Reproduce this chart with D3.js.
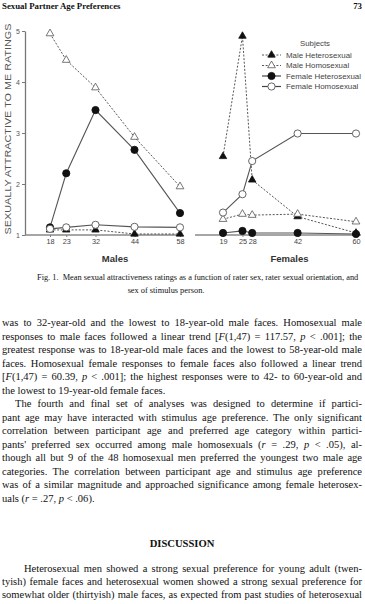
<!DOCTYPE html>
<html><head><meta charset="utf-8">
<script src="https://cdn.jsdelivr.net/npm/d3@7"></script>
<style>body{margin:0;background:#fff}svg{display:block}</style>
</head><body>
<script>
// ---- data ----
const maleAges = [18, 23, 32, 44, 58];
const femaleAges = [19, 25, 28, 42, 60];
const yTicks = [1, 2, 3, 4, 5];
const seriesNames = ["Male Heterosexual", "Male Homosexual", "Female Heterosexual", "Female Homosexual"];
// ratings of male stimulus faces
const maleFacesMaleHetero   = [1.10, 1.10, 1.10, 1.02, 1.02];
const maleFacesMaleHomo     = [4.95, 4.43, 3.89, 2.92, 1.95];
const maleFacesFemaleHetero = [1.15, 2.21, 3.45, 2.67, 1.43];
const maleFacesFemaleHomo   = [1.12, 1.15, 1.20, 1.16, 1.15];
// ratings of female stimulus faces
const femaleFacesMaleHetero   = [2.54, 4.90, 2.08, 1.36, 1.04];
const femaleFacesMaleHomo     = [1.31, 1.41, 1.39, 1.41, 1.26];
const femaleFacesFemaleHetero = [1.04, 1.08, 1.04, 1.04, 1.02];
const femaleFacesFemaleHomo   = [1.44, 1.80, 2.45, 2.99, 2.99];

const header = "Sexual Partner Age Preferences";
const pageNo = "73";
const yTitle = "SEXUALLY ATTRACTIVE TO ME RATINGS";
const caption1 = "Fig. 1.  Mean sexual attractiveness ratings as a function of rater sex, rater sexual orientation, and";
const caption2 = "sex of stimulus person.";
const body = [
 ["was to 32-year-old and the lowest to 18-year-old male faces. Homosexual male", 0, true],
 ["responses to male faces followed a linear trend [*F*(1,47) = 117.57, *p* < .001]; the", 0, true],
 ["greatest response was to 18-year-old male faces and the lowest to 58-year-old male", 0, true],
 ["faces. Homosexual female responses to female faces also followed a linear trend", 0, true],
 ["[*F*(1,47) = 60.39, *p* < .001]; the highest responses were to 42- to 60-year-old and", 0, true],
 ["the lowest to 19-year-old female faces.", 0, false],
 ["The fourth and final set of analyses was designed to determine if partici-", 1, true],
 ["pant age may have interacted with stimulus age preference. The only significant", 0, true],
 ["correlation between participant age and preferred age category within partici-", 0, true],
 ["pants' preferred sex occurred among male homosexuals (*r* = .29, *p* < .05), al-", 0, true],
 ["though all but 9 of the 48 homosexual men preferred the youngest two male age", 0, true],
 ["categories. The correlation between participant age and stimulus age preference", 0, true],
 ["was of a similar magnitude and approached significance among female heterosex-", 0, true],
 ["uals (*r* = .27, *p* < .06).", 0, false]
];
const heading = "DISCUSSION";
const body2 = [
 ["Heterosexual men showed a strong sexual preference for young adult (twen-", 1, true],
 ["tyish) female faces and heterosexual women showed a strong sexual preference for", 0, true],
 ["somewhat older (thirtyish) male faces, as expected from past studies of heterosexual", 0, true]
];

// ---- drawing ----
const W = 365, H = 604;
const svg = d3.select("body").append("svg").attr("width", W).attr("height", H);
svg.append("rect").attr("width", W).attr("height", H).attr("fill", "#fff");

const serif = "'Liberation Serif','Times New Roman',serif";
const sans = "'Liberation Sans',Arial,sans-serif";
const ink = "#111";

// header
svg.append("text").attr("x", 2).attr("y", 9).attr("font-family", serif).attr("font-weight", "bold")
  .attr("font-size", 8.8).attr("fill", ink).text(header);
svg.append("text").attr("x", 362).attr("y", 9).attr("text-anchor", "end").attr("font-family", serif)
  .attr("font-weight", "bold").attr("font-size", 8.8).attr("fill", ink).text(pageNo);

const y = d3.scaleLinear().domain([1, 5]).range([235, 31]);
const xM = d3.scaleLinear().domain([18, 58]).range([50, 180]);
const xF = d3.scaleLinear().domain([19, 60]).range([223, 356]);

const chart = svg.append("g").attr("font-family", sans);

// y axis
const yAx = chart.append("g").attr("transform", "translate(25,0)")
  .call(d3.axisLeft(y).tickValues(yTicks).tickSize(3).tickSizeOuter(0).tickPadding(2).tickFormat(d3.format("d")));
yAx.select(".domain").attr("stroke", "#777").attr("stroke-width", 1.3);
yAx.selectAll(".tick line").attr("stroke", "#777");
yAx.selectAll(".tick text").attr("font-size", 7).attr("fill", "#555").attr("font-family", sans);

// y title
chart.append("text").attr("transform", "translate(11,129) rotate(-90)").attr("text-anchor", "middle")
  .attr("font-size", 8.6).attr("fill", "#555").attr("textLength", 211).attr("lengthAdjust", "spacingAndGlyphs")
  .text(yTitle);

function xAxis(scale, ticks, x0, x1, title) {
  const g = chart.append("g").attr("transform", "translate(0,235)")
    .call(d3.axisBottom(scale).tickValues(ticks).tickSize(2).tickPadding(2).tickFormat(d3.format("d")));
  g.select(".domain").remove();
  g.append("line").attr("x1", x0).attr("x2", x1).attr("stroke", "#888").attr("stroke-width", 1.4);
  g.selectAll(".tick line").attr("stroke", "#777");
  g.selectAll(".tick text").attr("font-size", 7.3).attr("fill", "#444").attr("font-family", sans);
  g.append("text").attr("x", scale(d3.mean(scale.domain()))).attr("y", 27).attr("text-anchor", "middle")
    .attr("font-size", 9.5).attr("font-weight", "bold").attr("fill", "#333").attr("font-family", sans).text(title);
}
xAxis(xM, maleAges, 25, 181, "Males");
xAxis(xF, femaleAges, 195, 361, "Females");

const styles = [
  {dash: "2,1.6", shape: "tri", fill: true},
  {dash: "2,1.6", shape: "tri", fill: false},
  {dash: null, shape: "circ", fill: true},
  {dash: null, shape: "circ", fill: false}
];

function marker(g, st, cx, cy) {
  if (st.shape === "circ") {
    g.append("circle").attr("cx", cx).attr("cy", cy).attr("r", 3.6)
      .attr("fill", st.fill ? "#111" : "#fff").attr("stroke", st.fill ? "#111" : "#555").attr("stroke-width", 0.9);
  } else {
    g.append("path").attr("d", d3.symbol(d3.symbolTriangle, st.fill ? 24 : 26)())
      .attr("transform", `translate(${cx},${cy})`)
      .attr("fill", st.fill ? "#111" : "#fff").attr("stroke", st.fill ? "#111" : "#555").attr("stroke-width", 0.8);
  }
}

function panel(scale, ages, seriesList) {
  const g = chart.append("g");
  const line = d3.line().x((d, i) => scale(ages[i])).y(d => y(d));
  seriesList.forEach((vals, k) => {
    const st = styles[k];
    g.append("path").attr("d", line(vals)).attr("fill", "none").attr("stroke", st.dash ? "#444" : "#555")
      .attr("stroke-width", st.dash ? 0.9 : 1.1).attr("stroke-dasharray", st.dash);
  });
  seriesList.forEach((vals, k) => {
    vals.forEach((v, i) => marker(g, styles[k], scale(ages[i]), y(v)));
  });
}
panel(xM, maleAges, [maleFacesMaleHetero, maleFacesMaleHomo, maleFacesFemaleHetero, maleFacesFemaleHomo]);
panel(xF, femaleAges, [femaleFacesMaleHetero, femaleFacesMaleHomo, femaleFacesFemaleHetero, femaleFacesFemaleHomo]);

// legend
const lg = chart.append("g");
lg.append("text").attr("x", 315).attr("y", 46).attr("text-anchor", "middle").attr("font-size", 7.8)
  .attr("fill", "#444").text("Subjects");
seriesNames.forEach((name, k) => {
  const ly = 55 + k * 10.5;
  const st = styles[k];
  lg.append("line").attr("x1", 262).attr("x2", 281).attr("y1", ly).attr("y2", ly)
    .attr("stroke", "#444").attr("stroke-width", st.dash ? 0.9 : 1.2).attr("stroke-dasharray", st.dash);
  marker(lg, st, 271.5, ly);
  lg.append("text").attr("x", 286).attr("y", ly + 2.8).attr("font-size", 7.9).attr("fill", "#444").text(name);
});

// text helper: text drawn with a horizontal squeeze so glyph height matches the scan
function scaledText(x0, yy, str, size, sx, opts) {
  opts = opts || {};
  const g = svg.append("g").attr("transform", `translate(${x0},${yy}) scale(${sx},1)`);
  const t = g.append("text").attr("x", 0).attr("y", 0).attr("font-family", serif)
    .attr("font-size", size).attr("fill", ink).style("white-space", "pre")
    .attr("font-weight", opts.bold ? "bold" : null).attr("text-anchor", opts.anchor || null);
  str.split("*").forEach((p, i) => {
    t.append("tspan").attr("font-style", i % 2 ? "italic" : null).text(p);
  });
  if (opts.width) {
    const nat = t.node().getComputedTextLength();
    const spaces = (str.match(/ /g) || []).length;
    const target = opts.width / sx;
    if (spaces > 0) t.style("word-spacing", ((target - nat) / spaces) + "px");
  }
  return t;
}

// caption
const capFs = 9;
const capProbe = svg.append("text").attr("font-family", serif).attr("font-size", capFs).style("white-space", "pre").text(caption1);
const capSx = Math.min(1, 322 / capProbe.node().getComputedTextLength());
capProbe.remove();
scaledText(37, 280, caption1, capFs, capSx);
scaledText(166, 293, caption2, capFs, capSx, {anchor: "middle"});

// body text
const fs = 11.3;
const probe = svg.append("text").attr("font-family", serif).attr("font-size", fs).style("white-space", "pre");
let maxW = 0;
body.concat(body2).forEach(l => {
  probe.text(l[0].replace(/\*/g, ""));
  maxW = Math.max(maxW, probe.node().getComputedTextLength() + (l[1] ? 22 : 0));
});
probe.remove();
const sx = Math.min(1, 355 / maxW);

function writeLine(x0, x1, yy, str, justify) {
  scaledText(x0, yy, str, fs, sx, justify ? {width: x1 - x0} : {});
}
body.forEach((l, i) => writeLine(l[1] ? 15 : 2, 362, 326 + i * 13.5, l[0], l[2]));
scaledText(182, 547, heading, 10.6, 1, {bold: true, anchor: "middle"});
body2.forEach((l, i) => writeLine(l[1] ? 24 : 2, 362, 572 + i * 13, l[0], l[2]));
</script>
</body></html>
